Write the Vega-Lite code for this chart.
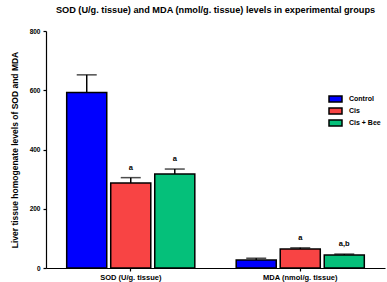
{
  "$schema": "https://vega.github.io/schema/vega-lite/v6.json",
  "width": 339,
  "height": 237,
  "autosize": "none",
  "padding": {"left": 46, "top": 31, "right": 2, "bottom": 14},
  "background": "white",
  "config": {
    "view": {"stroke": null},
    "font": "Liberation Sans",
    "axis": {"domainColor": "black", "tickColor": "black", "labelColor": "black", "titleColor": "black", "grid": false, "labelFontWeight": "bold", "titleFontWeight": "bold"}
  },
  "title": {"text": "SOD (U/g. tissue) and MDA (nmol/g. tissue) levels in experimental groups", "fontSize": 9.2, "fontWeight": "bold", "color": "black", "offset": 13, "anchor": "middle", "limit": 1000},
  "data": {"values": [
    {"group": "SOD (U/g. tissue)", "treatment": "Control", "value": 592, "upper": 652, "letter": ""},
    {"group": "SOD (U/g. tissue)", "treatment": "Cis", "value": 287, "upper": 305, "letter": "a"},
    {"group": "SOD (U/g. tissue)", "treatment": "Cis + Bee", "value": 317, "upper": 334, "letter": "a"},
    {"group": "MDA (nmol/g. tissue)", "treatment": "Control", "value": 27, "upper": 33, "letter": ""},
    {"group": "MDA (nmol/g. tissue)", "treatment": "Cis", "value": 64, "upper": 68, "letter": "a"},
    {"group": "MDA (nmol/g. tissue)", "treatment": "Cis + Bee", "value": 44, "upper": 47, "letter": "a,b"}
  ]},
  "encoding": {
    "x": {"field": "group", "type": "nominal", "sort": ["SOD (U/g. tissue)", "MDA (nmol/g. tissue)"],
      "scale": {"paddingInner": 0, "paddingOuter": 0},
      "axis": {"title": null, "labelAngle": 0, "labelFontSize": 7.5, "tickSize": 3, "domainWidth": 1.2, "tickWidth": 1.2, "labelPadding": 2}},
    "xOffset": {"field": "treatment", "type": "nominal", "sort": ["Control", "Cis", "Cis + Bee"],
      "scale": {"paddingInner": 0.09, "paddingOuter": 0.47}},
    "y": {"field": "value", "type": "quantitative",
      "title": "Liver tissue homogenate levels of SOD and MDA",
      "scale": {"domain": [0, 800], "nice": false},
      "axis": {"values": [0, 200, 400, 600, 800], "titleFontSize": 8.5, "titleLimit": 1000, "labelFontSize": 6.5, "tickSize": 3, "domainWidth": 1.2, "tickWidth": 1.2, "labelPadding": 3, "titlePadding": 10}}
  },
  "layer": [
    {
      "mark": {"type": "bar", "stroke": "black", "strokeWidth": 1.5},
      "encoding": {
        "color": {"field": "treatment", "type": "nominal", "sort": ["Control", "Cis", "Cis + Bee"],
          "scale": {"domain": ["Control", "Cis", "Cis + Bee"], "range": ["#0000ff", "#f84444", "#05c07a"]},
          "legend": {"title": null, "orient": "none", "legendX": 283.5, "legendY": 62, "padding": 0,
            "symbolType": "M-1.3,-0.6H1.3V0.6H-1.3Z", "symbolSize": 100, "symbolStrokeColor": "black", "symbolStrokeWidth": 1.5,
            "labelFontSize": 7, "labelFontWeight": "bold", "labelColor": "black", "labelOffset": 7.5, "rowPadding": 0}}
      }
    },
    {
      "mark": {"type": "rule", "color": "black", "strokeWidth": 1.5},
      "encoding": {"y2": {"field": "upper"}}
    },
    {
      "mark": {"type": "tick", "color": "black", "thickness": 1.5, "size": 20, "orient": "horizontal"},
      "encoding": {"y": {"field": "upper", "type": "quantitative", "title": "Liver tissue homogenate levels of SOD and MDA"}}
    },
    {
      "mark": {"type": "text", "dy": -10, "fontSize": 7.5, "fontWeight": "bold", "color": "black"},
      "encoding": {"y": {"field": "upper", "type": "quantitative", "title": "Liver tissue homogenate levels of SOD and MDA"}, "text": {"field": "letter"}}
    }
  ]
}
